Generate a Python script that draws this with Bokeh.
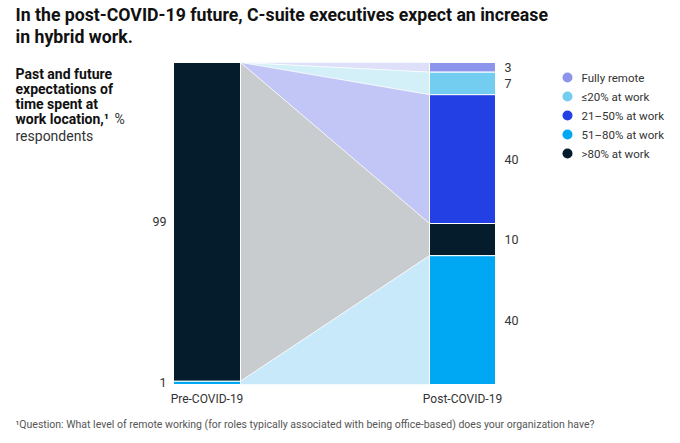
from bokeh.plotting import figure
from bokeh.models import Range1d, Label
from bokeh.embed import file_html
from bokeh.resources import INLINE

# ---------------- data ----------------
categories = ["Fully remote", "≤20% at work", "21–50% at work", ">80% at work", "51–80% at work"]
pre_values = [0, 0, 0, 99, 1]
post_values = [3, 7, 40, 10, 40]
stage_labels = ["Pre-COVID-19", "Post-COVID-19"]
legend_order = ["Fully remote", "≤20% at work", "21–50% at work", "51–80% at work", ">80% at work"]

bar_colors = {"Fully remote": "#8c94ec", "≤20% at work": "#73cdf0", "21–50% at work": "#2340e4",
              ">80% at work": "#051c2c", "51–80% at work": "#00a8f3"}
flow_colors = {"Fully remote": "#dde0f8", "≤20% at work": "#d3f0f9", "21–50% at work": "#c1c6f6",
               ">80% at work": "#c9cccf", "51–80% at work": "#c7e9f9"}

title_lines = ["In the post-COVID-19 future, C-suite executives expect an increase", "in hybrid work."]
subtitle_bold = ["Past and future", "expectations of", "time spent at", "work location,\u00b9"]
subtitle_reg = ["%", "respondents"]
footnote = "\u00b9Question: What level of remote working (for roles typically associated with being office-based) does your organization have?"

# ---------------- layout ----------------
W, H = 680, 443
PX_PCT = 3.22          # pixels per percentage point
TOP_PX = 62            # y of 100 %
UNIT = 67.0            # pixels per x unit
LEFT_PX = 173          # x of left bar
y_top = 100 + TOP_PX / PX_PCT
y_bot = y_top - H / PX_PCT
x_start = -LEFT_PX / UNIT
x_end = x_start + W / UNIT

def dx(px):   # px -> data x
    return x_start + px / UNIT

def dy(py):   # py (from top) -> data y
    return y_top - py / PX_PCT

BAR_W = 1.0
R0 = (429 - LEFT_PX) / UNIT
R_W = 66 / UNIT

FONT = "Roboto"
TXT = "#333333"

p = figure(width=W, height=H, output_backend="svg", toolbar_location=None,
           x_range=Range1d(x_start, x_end), y_range=Range1d(y_bot, y_top),
           min_border=0, outline_line_color=None)
p.axis.visible = False
p.grid.visible = False
p.background_fill_color = "white"
p.border_fill_color = "white"


def stack(vals):
    tops, bots, t = [], [], 100.0
    for v in vals:
        tops.append(t)
        bots.append(t - v)
        t -= v
    return tops, bots

pre_t, pre_b = stack(pre_values)
post_t, post_b = stack(post_values)

# flows
xs, ys, fc = [], [], []
for i, c in enumerate(categories):
    xs.append([BAR_W, R0, R0, BAR_W])
    ys.append([pre_t[i], post_t[i], post_b[i], pre_b[i]])
    fc.append(flow_colors[c])
p.patches(xs, ys, fill_color=fc, line_color="white", line_width=0.6)

# bars
for tops, bots, vals, x0, w in [(pre_t, pre_b, pre_values, 0.0, BAR_W), (post_t, post_b, post_values, R0, R_W)]:
    L, R, T, B, C = [], [], [], [], []
    for i, c in enumerate(categories):
        if vals[i] > 0:
            L.append(x0); R.append(x0 + w); T.append(tops[i]); B.append(bots[i]); C.append(bar_colors[c])
    p.quad(left=L, right=R, top=T, bottom=B, fill_color=C, line_color="white", line_width=1)

# value labels
for i, v in enumerate(post_values):
    if v > 0:
        p.add_layout(Label(x=R0 + R_W + 9 / UNIT, y=(post_t[i] + post_b[i]) / 2, text=str(v),
                           text_font=FONT, text_font_size="12.5px", text_color=TXT,
                           text_align="left", text_baseline="middle"))
for i, v in enumerate(pre_values):
    if v > 0:
        p.add_layout(Label(x=-7 / UNIT, y=(pre_t[i] + pre_b[i]) / 2, text=str(v),
                           text_font=FONT, text_font_size="12.5px", text_color=TXT,
                           text_align="right", text_baseline="middle"))

# stage labels
for xc, t in zip([BAR_W / 2, R0 + R_W / 2], stage_labels):
    p.add_layout(Label(x=xc, y=dy(398), text=t, text_font=FONT, text_font_size="12px",
                       text_color=TXT, text_align="center", text_baseline="middle"))

# title
for k, line in enumerate(title_lines):
    p.add_layout(Label(x=dx(15), y=dy(14 + 22 * k), text=line, text_font=FONT,
                       text_font_size="17.7px", text_font_style="bold", text_color="#111111",
                       text_align="left", text_baseline="middle"))

# subtitle
mids = [73, 88, 103, 118]
for k, line in enumerate(subtitle_bold):
    p.add_layout(Label(x=dx(15), y=dy(mids[k]), text=line, text_font=FONT,
                       text_font_size="14px", text_font_style="bold", text_color="#111111",
                       text_align="left", text_baseline="middle"))
p.add_layout(Label(x=dx(114), y=dy(118), text=subtitle_reg[0], text_font=FONT,
                   text_font_size="14px", text_color=TXT, text_align="left", text_baseline="middle"))
p.add_layout(Label(x=dx(15), y=dy(135), text=subtitle_reg[1], text_font=FONT,
                   text_font_size="14px", text_color=TXT, text_align="left", text_baseline="middle"))

# legend
lx, ly = [], []
for k, c in enumerate(legend_order):
    ycen = dy(77 + 19 * k)
    lx.append(dx(567)); ly.append(ycen)
    p.add_layout(Label(x=dx(581), y=ycen, text=c, text_font=FONT, text_font_size="11.5px",
                       text_color=TXT, text_align="left", text_baseline="middle"))
p.scatter(lx, ly, size=10, marker="circle", fill_color=[bar_colors[c] for c in legend_order], line_color=None)

# footnote
p.add_layout(Label(x=dx(15), y=dy(424), text=footnote, text_font=FONT, text_font_size="10.5px",
                   text_color="#555555", text_align="left", text_baseline="middle"))

open("out.html", "w").write(file_html(p, INLINE))
